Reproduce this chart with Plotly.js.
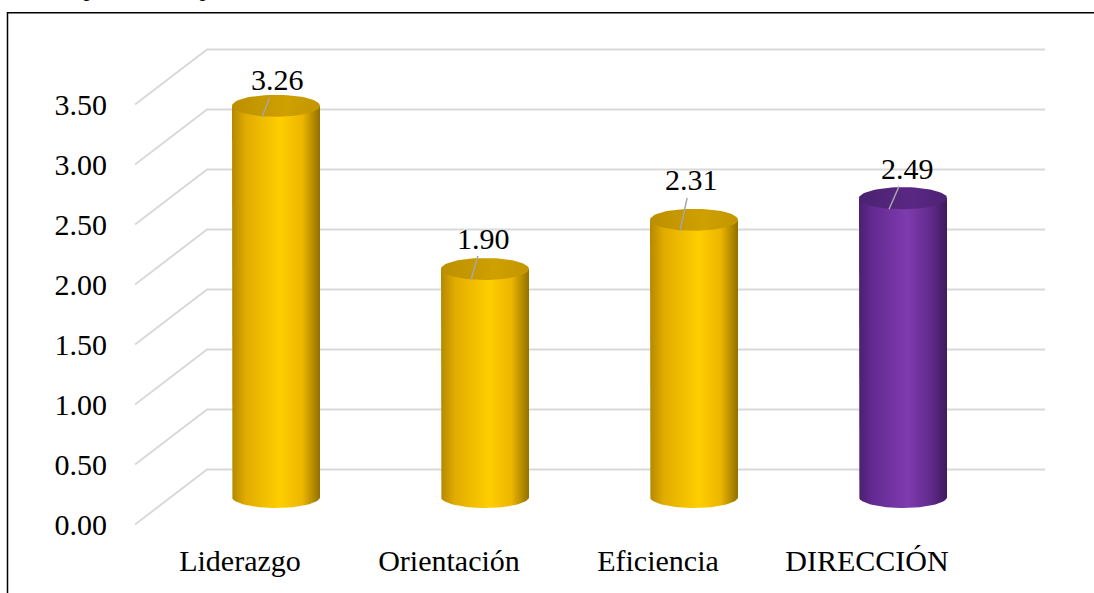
<!DOCTYPE html>
<html>
<head>
<meta charset="utf-8">
<script src="https://cdn.plot.ly/plotly-3.0.1.min.js"></script>
<style>
  html, body { margin: 0; padding: 0; background: #fff; }
  #chart { width: 1094px; height: 593px; }
</style>
</head>
<body>
<div id="chart"></div>
<script>
// Mean scores per dimension and for the overall variable
const categories = ['Liderazgo', 'Orientación', 'Eficiencia', 'DIRECCIÓN'];
const means = [3.26, 1.90, 2.31, 2.49];
const yTicks = [0, 0.5, 1, 1.5, 2, 2.5, 3, 3.5];
const yTickLabels = ['0.00', '0.50', '1.00', '1.50', '2.00', '2.50', '3.00', '3.50'];
const captionText = 'Comparativo de promedios';

// ---- geometry of the pseudo-3D frame (pixel scale of each axis unit) ----
const W = 1094, H = 593;
const M = { l: 112, r: 0, t: 0, b: 58 };
const PX_X = 209;          // pixels per category step
const PX_Y = 120;          // pixels per value unit
const BAR0_PX = 276;       // pixel x of first bar centre
const ZERO_PX = 497;       // pixel y of value 0 at bar depth
const depthX = 72 / PX_X;  // back-wall shift to the right
const depthY = 55 / PX_Y;  // back-wall shift upwards
const rx = 44 / PX_X;      // cylinder radius
const ry = 11 / PX_Y;      // ellipse half-height
const gridRight = (1045 - BAR0_PX) / PX_X;

const xr0 = -(BAR0_PX - M.l) / PX_X;
const xr1 = xr0 + (W - M.l - M.r) / PX_X;
const plotH = H - M.t - M.b;
const yr1 = (ZERO_PX - M.t) / PX_Y;
const yr0 = yr1 - plotH / PX_Y;

const font = 'Liberation Serif';

const gold = {
  body: [[0, '#B58900'], [0.16, '#E2AC00'], [0.55, '#FFCE00'], [0.8, '#EDB600'], [1, '#927000']],
  top: [[0, '#BC8F00'], [0.6, '#CFA000'], [1, '#C39600']]
};
const purple = {
  body: [[0, '#4A2070'], [0.16, '#642A92'], [0.55, '#7E3BAD'], [0.82, '#612A8C'], [1, '#3D1A5D']],
  top: [[0, '#4A2170'], [0.6, '#5A2884'], [1, '#4D2272']]
};
const paletteFor = name => (name === name.toUpperCase() ? purple : gold);

// Pixel offsets of each value label from its leader-line end
const labelOffsets = [[15, -37], [12, -42], [11, -51], [18, -41]];

const traces = [];

// Floor-to-wall gridlines: front-left edge, back-left corner, back wall
const frontLeft = xr0 + (135 - M.l) / PX_X;
yTicks.forEach(v => {
  traces.push({
    type: 'scatter', mode: 'lines', hoverinfo: 'skip', showlegend: false,
    x: [frontLeft, frontLeft + depthX, gridRight],
    y: [v - depthY / 2, v + depthY / 2, v + depthY / 2],
    line: { color: '#D9D9D9', width: 2 }
  });
});

function arc(cx, cy, t0, t1, n) {
  const xs = [], ys = [];
  for (let k = 0; k <= n; k++) {
    const t = t0 + (t1 - t0) * k / n;
    xs.push(cx + rx * Math.cos(t));
    ys.push(cy + ry * Math.sin(t));
  }
  return { xs, ys };
}

// Cylinders: body with a horizontal shading, then the top face
categories.forEach((name, i) => {
  const v = means[i];
  const pal = paletteFor(name);
  const bottom = arc(i, 0, Math.PI, 2 * Math.PI, 48);
  const bx = [i - rx].concat(bottom.xs, [i + rx, i - rx]);
  const by = [v].concat(bottom.ys, [v, v]);
  traces.push({
    type: 'scatter', mode: 'lines', hoverinfo: 'skip', showlegend: false,
    x: bx, y: by, fill: 'toself',
    fillgradient: { type: 'horizontal', colorscale: pal.body },
    line: { width: 0, color: 'rgba(0,0,0,0)' }
  });
  const top = arc(i, v, 0, 2 * Math.PI, 72);
  traces.push({
    type: 'scatter', mode: 'lines', hoverinfo: 'skip', showlegend: false,
    x: top.xs, y: top.ys, fill: 'toself',
    fillgradient: { type: 'horizontal', colorscale: pal.top },
    line: { width: 0, color: 'rgba(0,0,0,0)' }
  });
});

// Value labels with short leader lines onto the top faces
const annotations = categories.map((name, i) => ({
  x: i - 14 / PX_X, y: means[i] - 11 / PX_Y, xref: 'x', yref: 'y',
  text: means[i].toFixed(2), showarrow: true, arrowhead: 0,
  arrowwidth: 1.5, arrowcolor: '#A6A6A6', standoff: 0,
  ax: labelOffsets[i][0], ay: labelOffsets[i][1],
  font: { family: font, size: 30, color: '#000' }
}));

// Caption above the frame (only its lowest strokes fall inside the page)
annotations.push({
  xref: 'paper', yref: 'paper',
  x: (38 - M.l) / (W - M.l - M.r), y: (plotH - 3.5) / plotH,
  xanchor: 'left', yanchor: 'bottom', showarrow: false,
  text: '<i>' + captionText + '</i>',
  font: { family: font, size: 24, color: '#000' }
});

const layout = {
  width: W, height: H, margin: M,
  paper_bgcolor: '#fff', plot_bgcolor: '#fff',
  showlegend: false,
  xaxis: {
    range: [xr0, xr1], fixedrange: true,
    tickvals: categories.map((_, i) => i - depthX / 2), ticktext: categories,
    showgrid: false, zeroline: false, showline: false, ticks: '',
    ticklabelstandoff: 5,
    tickfont: { family: font, size: 30, color: '#000' }
  },
  yaxis: {
    range: [yr0, yr1], fixedrange: true,
    tickvals: yTicks.map(v => v - depthY / 2), ticktext: yTickLabels,
    showgrid: false, zeroline: false, showline: false, ticks: '',
    ticklabelstandoff: 4,
    tickfont: { family: font, size: 30, color: '#000' }
  },
  shapes: [{
    type: 'rect', xref: 'paper', yref: 'paper', layer: 'above',
    x0: (7.5 - M.l) / (W - M.l - M.r), x1: 1.05,
    y0: -0.3, y1: (plotH - 12.7) / plotH,
    line: { color: '#000', width: 1.5 }, fillcolor: 'rgba(0,0,0,0)'
  }],
  annotations: annotations
};

Plotly.newPlot('chart', traces, layout, { staticPlot: true, displayModeBar: false });
</script>
</body>
</html>
